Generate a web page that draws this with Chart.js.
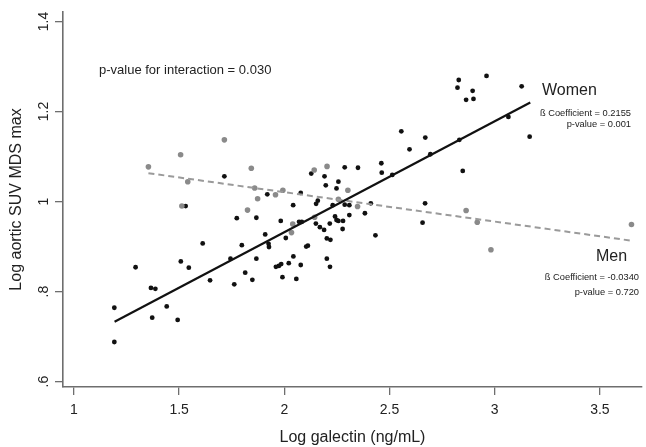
<!DOCTYPE html>
<html><head><meta charset="utf-8">
<script src="https://cdn.jsdelivr.net/npm/chart.js@4.4.0/dist/chart.umd.min.js"></script>
<style>html,body{margin:0;padding:0;background:#fff;overflow:hidden}canvas{display:block}</style>
</head><body>
<canvas id="c" width="646" height="447"></canvas>
<script>
// Women (black points)
const womenX = [1.715,1.919,2.042,1.774,1.867,1.983,1.909,2.007,1.612,1.798,1.925,1.927,1.293,1.508,1.546,1.744,1.867,2.043,2.021,1.960,1.974,1.985,1.814,1.991,2.057,1.647,1.762,1.848,1.366,1.387,1.192,1.441,1.372,1.493,1.192,1.531,2.128,2.191,2.287,2.350,2.461,2.463,2.197,2.257,2.248,2.078,2.159,2.151,2.230,2.287,2.309,2.383,2.309,2.241,2.248,2.257,2.279,2.216,2.150,2.169,2.189,2.277,2.433,2.202,2.219,2.112,2.104,2.202,2.217,2.078,2.070,2.083,2.411,2.595,2.513,2.829,2.823,2.961,2.895,2.864,2.899,3.128,3.166,3.065,2.832,2.848,2.670,2.556,2.694,2.669,2.657];
const womenY = [1.056,1.016,0.992,0.963,0.964,0.957,0.927,0.919,0.907,0.903,0.906,0.899,0.854,0.867,0.853,0.873,0.873,0.878,0.863,0.855,0.857,0.861,0.842,0.832,0.828,0.825,0.816,0.826,0.808,0.806,0.764,0.767,0.742,0.737,0.688,0.990,1.062,1.056,1.076,1.075,1.085,1.064,1.036,1.044,1.029,1.019,1.002,0.995,0.992,0.993,0.992,0.974,0.970,0.967,0.959,0.957,0.957,0.951,0.951,0.943,0.937,0.939,0.925,0.918,0.915,0.902,0.900,0.873,0.855,0.859,0.955,0.955,0.996,1.116,1.059,1.270,1.253,1.279,1.246,1.226,1.228,1.256,1.144,1.188,1.137,1.068,1.142,1.156,1.105,0.996,0.953];
// Men (grey points)
const menX = [1.354,1.507,1.541,1.715,1.843,1.859,1.873,1.825,1.513,1.958,1.993,2.040,2.034,2.142,2.203,2.302,2.257,2.348,2.144,2.864,2.917,2.982,3.650];
const menY = [1.077,1.104,1.044,1.137,1.074,1.030,1.006,0.981,0.990,1.015,1.025,0.950,0.931,1.070,1.078,1.025,1.005,0.989,0.965,0.980,0.954,0.893,0.949];
// Fitted lines (end points)
const womenFitX = [1.193, 3.169];
const womenFitY = [0.733, 1.220];
const menFitX = [1.354, 3.650];
const menFitY = [1.063, 0.913];
// Ticks
const xTicks = [1, 1.5, 2, 2.5, 3, 3.5];
const xTickLabels = ['1', '1.5', '2', '2.5', '3', '3.5'];
const yTicks = [0.6, 0.8, 1, 1.2, 1.4];
const yTickLabels = ['.6', '.8', '1', '1.2', '1.4'];

const FONT = '"Liberation Sans", Arial, Helvetica, sans-serif';
const pts = (xs, ys) => xs.map((x, i) => ({x, y: ys[i]}));

const annot = {
  id: 'annot',
  afterDraw(chart) {
    const ctx = chart.ctx;
    const ys = chart.scales.y;
    ctx.save();
    ctx.fillStyle = '#222';
    // rotated y tick labels
    ctx.font = '14px ' + FONT;
    ctx.textAlign = 'center';
    ctx.textBaseline = 'middle';
    yTicks.forEach((v, i) => {
      const py = ys.getPixelForValue(v);
      ctx.save();
      ctx.translate(44, py);
      ctx.rotate(-Math.PI / 2);
      ctx.fillText(yTickLabels[i], 0, 0);
      ctx.restore();
    });
    ctx.textBaseline = 'middle';
    ctx.textAlign = 'left';
    ctx.font = '13px ' + FONT;
    ctx.fillText('p-value for interaction = 0.030', 99, 70);
    ctx.font = '16px ' + FONT;
    ctx.fillText('Women', 542, 91);
    ctx.fillText('Men', 596, 257);
    ctx.textAlign = 'right';
    ctx.font = '9.3px ' + FONT;
    ctx.fillText('ß Coefficient = 0.2155', 631, 113);
    ctx.fillText('p-value = 0.001', 631, 124);
    ctx.fillText('ß Coefficient = -0.0340', 639, 277);
    ctx.fillText('p-value = 0.720', 639, 292);
    ctx.restore();
  }
};

new Chart(document.getElementById('c'), {
  type: 'scatter',
  data: {
    datasets: [
      {label: 'Women fit', data: pts(womenFitX, womenFitY), showLine: true, borderColor: '#111', borderWidth: 2.2, pointRadius: 0, order: 0},
      {label: 'Men fit', data: pts(menFitX, menFitY), showLine: true, borderColor: '#9a9a9a', borderWidth: 2, borderDash: [6, 4], pointRadius: 0, order: 1},
      {label: 'Men', data: pts(menX, menY), backgroundColor: '#8a8a8a', borderColor: '#8a8a8a', borderWidth: 0, pointRadius: 2.8, order: 2},
      {label: 'Women', data: pts(womenX, womenY), backgroundColor: '#111', borderColor: '#111', borderWidth: 0, pointRadius: 2.4, order: 3}
    ]
  },
  options: {
    responsive: false,
    animation: false,
    devicePixelRatio: 1,
    layout: {padding: {top: 12, right: 0, left: 0, bottom: 0}},
    plugins: {legend: {display: false}, tooltip: {enabled: false}},
    scales: {
      x: {
        type: 'linear', min: 0.948, max: 3.70,
        afterBuildTicks: s => { s.ticks = xTicks.map(v => ({value: v})); },
        afterFit: s => { s.height = 60; },
        grid: {drawOnChartArea: false, drawTicks: true, tickLength: 8, color: '#6e6e6e', lineWidth: 1.3},
        border: {display: true, color: '#6e6e6e', width: 1.6},
        ticks: {font: {family: FONT, size: 14}, color: '#222', padding: 7, maxRotation: 0,
          callback: (v) => { const i = xTicks.indexOf(v); return i >= 0 ? xTickLabels[i] : ''; }},
        title: {display: true, text: 'Log galectin (ng/mL)', font: {family: FONT, size: 16}, color: '#222', padding: {top: 0, bottom: 0}}
      },
      y: {
        type: 'linear', min: 0.588, max: 1.421,
        afterBuildTicks: s => { s.ticks = yTicks.map(v => ({value: v})); },
        afterFit: s => { s.width = 63; },
        grid: {drawOnChartArea: false, drawTicks: true, tickLength: 8, color: '#6e6e6e', lineWidth: 1.3},
        border: {display: true, color: '#6e6e6e', width: 1.6},
        ticks: {display: false},
        title: {display: true, text: 'Log aortic SUV MDS max', font: {family: FONT, size: 16}, color: '#222', padding: {top: 7, bottom: 0}}
      }
    }
  },
  plugins: [annot]
});
</script>
</body></html>
